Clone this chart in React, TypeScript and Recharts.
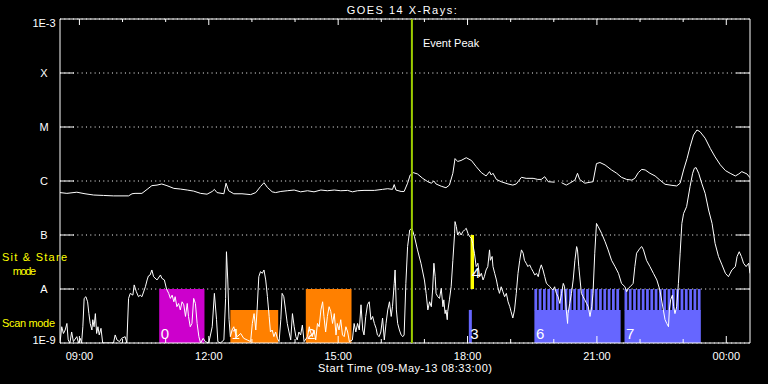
import { LineChart, Line, XAxis, YAxis, CartesianGrid, ReferenceArea, ReferenceLine } from 'recharts'

// time in decimal hours on 09-May-13 (24+ = next day), flux in W/m^2
const T_START = 8.55
const T_END = 24.55
const hourTicks = [9, 10, 11, 12, 13, 14, 15, 16, 17, 18, 19, 20, 21, 22, 23, 24]
const hourLabels: Record<number, string> = { 9: '09:00', 12: '12:00', 15: '15:00', 18: '18:00', 21: '21:00', 24: '00:00' }
const fluxTicks = [1e-9, 1e-8, 1e-7, 1e-6, 1e-5, 1e-4, 1e-3]
const fluxLabels = ['1E-9', 'A', 'B', 'C', 'M', 'X', '1E-3']
const eventPeak = 16.71

// 1-8 A channel
const longChannel: [number, number | null][] = [
  [8.55, 6.1e-7], [8.71, 5.9e-7], [8.94, 6.2e-7], [9.13, 5.8e-7], [9.33, 5.5e-7], [9.56, 5.4e-7], [9.79, 5.3e-7],
  [10.14, 5.3e-7], [10.22, 5.8e-7], [10.29, 5.9e-7], [10.45, 5.9e-7], [10.57, 7.0e-7], [10.68, 8.2e-7], [10.8, 8.4e-7],
  [10.91, 8.8e-7], [11.03, 8.2e-7], [11.19, 7.3e-7], [11.34, 7.1e-7], [11.5, 6.8e-7], [11.65, 6.5e-7], [11.81, 5.9e-7],
  [11.96, 5.7e-7], [12.08, 6.4e-7], [12.13, 7.0e-7], [12.19, 6.1e-7], [12.35, 5.8e-7], [12.4, 9.1e-7], [12.46, 6.6e-7],
  [12.58, 5.8e-7], [12.77, 5.8e-7], [12.97, 5.6e-7], [13.09, 6.1e-7], [13.2, 7.9e-7], [13.28, 9.3e-7], [13.36, 7.6e-7],
  [13.47, 6.3e-7], [13.55, 6.1e-7], [13.67, 6.4e-7], [13.82, 6.6e-7], [13.98, 6.8e-7], [14.13, 6.3e-7], [14.29, 6.6e-7],
  [14.44, 6.3e-7], [14.6, 6.8e-7], [14.75, 6.6e-7], [14.91, 6.8e-7], [15.06, 6.6e-7], [15.22, 6.7e-7], [15.33, 6.3e-7],
  [15.45, 6.6e-7], [15.6, 6.7e-7], [15.84, 6.7e-7], [16.03, 7.0e-7], [16.15, 7.2e-7], [16.26, 7.0e-7], [16.3, 8.6e-7],
  [16.34, 6.8e-7], [16.46, 6.4e-7], [16.53, 6.4e-7], [16.61, 9.1e-7], [16.67, 1.29e-6], [16.74, 1.43e-6], [16.84, 1.35e-6],
  [16.96, 1.12e-6], [17.08, 9.7e-7], [17.16, 9.1e-7], [17.22, 1.0e-6], [17.27, 8.8e-7], [17.39, 8.0e-7], [17.5, 7.5e-7],
  [17.58, 8.4e-7], [17.66, 1.39e-6], [17.71, 2.6e-6], [17.77, 2.3e-6], [17.85, 2.4e-6], [17.97, 2.7e-6], [18.09, 2.4e-6],
  [18.2, 1.85e-6], [18.32, 1.43e-6], [18.43, 1.24e-6], [18.51, 1.49e-6], [18.55, 1.29e-6], [18.59, 1.39e-6], [18.67, 1.07e-6],
  [18.78, 9.7e-7], [18.94, 8.8e-7], [19.05, 8.4e-7], [19.13, 8.8e-7], [19.25, 1.17e-6], [19.36, 1.12e-6], [19.52, 1.12e-6],
  [19.63, 1.07e-6], [19.71, 1.07e-6], [19.79, 1.2e-6], [19.87, 9.7e-7], [20.02, 9.5e-7], [20.1, null], [20.18, 9.3e-7],
  [20.29, 8.4e-7], [20.37, 9.1e-7], [20.49, 1.04e-6], [20.55, 1.39e-6], [20.6, 1.07e-6], [20.72, 9.1e-7], [20.91, 9.7e-7],
  [20.99, 2.1e-6], [21.07, 2.2e-6], [21.19, 1.98e-6], [21.34, 1.6e-6], [21.46, 1.39e-6], [21.57, 1.17e-6], [21.69, 1.07e-6],
  [21.81, 1.04e-6], [21.88, 1.12e-6], [21.96, 1.43e-6], [22.04, 1.64e-6], [22.12, 1.6e-6], [22.23, 1.39e-6], [22.35, 1.24e-6],
  [22.46, 1.04e-6], [22.58, 8.7e-7], [22.74, 8.3e-7], [22.85, 8.1e-7], [22.93, 9.1e-7], [23.01, 1.6e-6], [23.09, 2.6e-6],
  [23.16, 4.3e-6], [23.24, 7.1e-6], [23.32, 8.8e-6], [23.39, 8.2e-6], [23.51, 6.2e-6], [23.63, 4.0e-6], [23.74, 2.8e-6],
  [23.86, 2.0e-6], [23.98, 1.56e-6], [24.09, 1.39e-6], [24.21, 1.24e-6], [24.29, 1.35e-6], [24.36, 1.49e-6], [24.48, 1.35e-6],
  [24.55, 1.15e-6],
]

// 0.5-4 A channel
const shortChannel: [number, number][] = [
  [8.55, 1e-9], [8.59, 2.0e-9], [8.63, 1.5e-9], [8.67, 1.74e-9], [8.71, 2.3e-9], [8.74, 1.14e-9], [8.78, 1e-9], [8.82, 1.6e-9],
  [8.86, 1.06e-9], [8.94, 1.31e-9], [8.98, 1e-9], [9.02, 1.22e-9], [9.05, 1e-9], [9.08, 2.0e-9], [9.11, 6.7e-9], [9.15, 7.2e-9],
  [9.19, 5.8e-9], [9.22, 3.5e-9], [9.25, 2.3e-9], [9.29, 1.74e-9], [9.31, 2.7e-9], [9.34, 2.0e-9], [9.37, 3.5e-9], [9.4, 1.5e-9],
  [9.43, 2.0e-9], [9.46, 1.41e-9], [9.5, 1.87e-9], [9.54, 1e-9], [9.79, 1e-9], [9.83, 1.41e-9], [9.87, 1.14e-9], [9.93, 1.06e-9],
  [9.98, 1.22e-9], [10.06, 1.31e-9], [10.1, 1e-9], [10.14, 6.7e-9], [10.18, 8.3e-9], [10.24, 7.7e-9], [10.27, 1.19e-8],
  [10.32, 8.9e-9], [10.37, 7.2e-9], [10.41, 7.7e-9], [10.45, 7.2e-9], [10.53, 1.1e-8], [10.57, 1.47e-8], [10.6, 1.74e-8],
  [10.64, 1.82e-8], [10.68, 2.25e-8], [10.72, 1.69e-8], [10.8, 1.47e-8], [10.88, 1.82e-8], [10.91, 1.58e-8], [10.97, 1.47e-8],
  [11.02, 1.0e-8], [11.07, 8.3e-9], [11.11, 6.7e-9], [11.15, 7.7e-9], [11.19, 5.8e-9], [11.22, 7.2e-9], [11.26, 4.7e-9],
  [11.3, 5.4e-9], [11.34, 4.1e-9], [11.38, 5.8e-9], [11.42, 5.1e-9], [11.46, 3.1e-9], [11.5, 5.4e-9], [11.53, 3.1e-9],
  [11.57, 2.0e-9], [11.61, 2.3e-9], [11.65, 6.7e-9], [11.69, 5.4e-9], [11.73, 2.3e-9], [11.77, 1.31e-9], [11.81, 1e-9],
  [11.87, 1.22e-9], [11.92, 1.06e-9], [12.0, 1e-9], [12.08, 2.0e-9], [12.13, 8.3e-9], [12.18, 2.7e-9], [12.21, 1.06e-9],
  [12.27, 1e-9], [12.35, 1.14e-9], [12.39, 6.7e-9], [12.41, 4.9e-8], [12.44, 1.47e-8], [12.47, 2.7e-9], [12.5, 1.31e-9],
  [12.54, 1.74e-9], [12.58, 2.0e-9], [12.62, 1.5e-9], [12.66, 1.31e-9], [12.74, 1.5e-9], [12.81, 1.22e-9], [12.89, 1.14e-9],
  [12.97, 1.06e-9], [13.01, 2.3e-9], [13.05, 3.5e-9], [13.09, 1.74e-9], [13.12, 4.1e-9], [13.16, 1.69e-8], [13.2, 2.1e-8],
  [13.24, 1.95e-8], [13.28, 2.25e-8], [13.32, 1.47e-8], [13.36, 7.2e-9], [13.4, 3.1e-9], [13.43, 1.6e-9], [13.47, 1.74e-9],
  [13.51, 1.31e-9], [13.55, 1.6e-9], [13.59, 1.22e-9], [13.63, 1.06e-9], [13.67, 2.7e-9], [13.7, 8.3e-9], [13.74, 7.2e-9],
  [13.78, 4.1e-9], [13.82, 2.3e-9], [13.86, 1.6e-9], [13.9, 1.14e-9], [13.94, 3.5e-9], [13.98, 2.0e-9], [14.02, 1.31e-9],
  [14.05, 1.14e-9], [14.09, 1.6e-9], [14.13, 1.41e-9], [14.17, 2.15e-9], [14.21, 1.06e-9], [14.29, 1.31e-9], [14.33, 2.0e-9],
  [14.36, 1.6e-9], [14.4, 1.31e-9], [14.44, 1.74e-9], [14.48, 1.14e-9], [14.52, 2.3e-9], [14.56, 2.0e-9], [14.6, 4.1e-9],
  [14.64, 5.8e-9], [14.67, 3.1e-9], [14.71, 1.6e-9], [14.75, 3.1e-9], [14.79, 4.7e-9], [14.83, 3.8e-9], [14.87, 2.3e-9],
  [14.91, 3.5e-9], [14.95, 1.41e-9], [14.98, 2.3e-9], [15.02, 1.74e-9], [15.06, 2.7e-9], [15.1, 1.41e-9], [15.14, 1.31e-9],
  [15.18, 2.0e-9], [15.22, 1.6e-9], [15.26, 1.06e-9], [15.33, 1.14e-9], [15.37, 2.3e-9], [15.41, 1.6e-9], [15.45, 2.3e-9],
  [15.49, 1.74e-9], [15.53, 5.1e-9], [15.57, 1.74e-9], [15.6, 1.41e-9], [15.64, 3.1e-9], [15.68, 5.1e-9], [15.72, 5.8e-9],
  [15.76, 2.7e-9], [15.8, 3.1e-9], [15.84, 2.3e-9], [15.88, 1.87e-9], [15.91, 1.41e-9], [15.95, 1.31e-9], [15.99, 1.6e-9],
  [16.03, 2.9e-9], [16.07, 1.14e-9], [16.11, 2.3e-9], [16.15, 4.1e-9], [16.19, 5.8e-9], [16.23, 3.1e-9], [16.26, 4.7e-9],
  [16.3, 1.27e-8], [16.32, 2.25e-8], [16.35, 4.1e-9], [16.38, 2.3e-9], [16.42, 1.74e-9], [16.46, 1.41e-9], [16.5, 1.31e-9],
  [16.53, 1.41e-9], [16.57, 1.27e-8], [16.61, 6.1e-8], [16.66, 1.24e-7], [16.71, 1.33e-7], [16.77, 9.3e-8], [16.84, 5.3e-8],
  [16.92, 3.0e-8], [17.0, 1.47e-8], [17.04, 8.3e-9], [17.08, 4.1e-9], [17.12, 5.8e-9], [17.16, 4.7e-9], [17.19, 9.6e-9],
  [17.22, 3.0e-8], [17.25, 1.69e-8], [17.27, 8.3e-9], [17.31, 7.2e-9], [17.35, 6.7e-9], [17.39, 1.03e-8], [17.43, 4.7e-9],
  [17.45, 6.3e-9], [17.48, 3.5e-9], [17.5, 4.1e-9], [17.53, 2.7e-9], [17.54, 3.8e-9], [17.58, 6.3e-9], [17.62, 1.1e-8],
  [17.66, 3.4e-8], [17.7, 1.07e-7], [17.71, 1.77e-7], [17.74, 1.43e-7], [17.77, 1.0e-7], [17.81, 1.15e-7], [17.85, 1.0e-7],
  [17.89, 1.15e-7], [17.93, 1.24e-7], [17.97, 1.33e-7], [18.01, 1.07e-7], [18.05, 9.3e-8], [18.09, 8.7e-8], [18.12, 7.0e-8],
  [18.16, 4.6e-8], [18.2, 2.6e-8], [18.24, 3.0e-8], [18.28, 1.69e-8], [18.32, 1.95e-8], [18.36, 1.47e-8], [18.39, 1.69e-8],
  [18.43, 2.25e-8], [18.47, 2.6e-8], [18.51, 5.3e-8], [18.53, 3.4e-8], [18.57, 4.0e-8], [18.59, 2.6e-8], [18.63, 1.95e-8],
  [18.67, 1.47e-8], [18.7, 1.1e-8], [18.74, 8.3e-9], [18.78, 1.1e-8], [18.82, 8.9e-9], [18.86, 7.2e-9], [18.9, 8.3e-9],
  [18.94, 5.8e-9], [18.98, 4.7e-9], [19.01, 3.8e-9], [19.05, 2.9e-9], [19.09, 4.1e-9], [19.13, 8.3e-9], [19.17, 1.95e-8],
  [19.21, 3.4e-8], [19.25, 5.3e-8], [19.29, 4.6e-8], [19.32, 3.4e-8], [19.36, 3.0e-8], [19.4, 2.6e-8], [19.44, 2.8e-8],
  [19.48, 2.4e-8], [19.52, 2.1e-8], [19.56, 1.82e-8], [19.6, 1.95e-8], [19.64, 1.69e-8], [19.67, 2.25e-8], [19.71, 2.8e-8],
  [19.75, 2.25e-8], [19.79, 1.69e-8], [19.83, 1.27e-8], [19.87, 1.19e-8], [19.91, 1.1e-8], [19.94, 1.03e-8], [19.98, 9.6e-9],
  [20.02, 1.1e-8], [20.06, 8.3e-9], [20.1, 7.2e-9], [20.14, 5.4e-9], [20.18, 8.3e-9], [20.22, 1.27e-8], [20.25, 1.1e-8],
  [20.29, 4.1e-9], [20.32, 2.3e-9], [20.33, 3.5e-9], [20.37, 5.4e-9], [20.41, 8.3e-9], [20.45, 1.47e-8], [20.49, 3.4e-8],
  [20.53, 6.1e-8], [20.55, 5.3e-8], [20.58, 2.6e-8], [20.61, 1.47e-8], [20.64, 8.3e-9], [20.68, 7.2e-9], [20.72, 6.3e-9],
  [20.76, 5.4e-9], [20.8, 4.7e-9], [20.84, 3.1e-9], [20.88, 4.7e-9], [20.91, 8.3e-9], [20.95, 4.6e-8], [20.99, 1.64e-7],
  [21.03, 1.43e-7], [21.11, 1.07e-7], [21.19, 7.5e-8], [21.26, 5.3e-8], [21.34, 3.4e-8], [21.42, 2.6e-8], [21.5, 1.95e-8],
  [21.57, 1.27e-8], [21.65, 1.1e-8], [21.69, 8.9e-9], [21.73, 1.03e-8], [21.77, 1.1e-8], [21.81, 1.19e-8], [21.84, 1.27e-8],
  [21.88, 2.6e-8], [21.92, 4.6e-8], [22.0, 5.7e-8], [22.04, 6.1e-8], [22.08, 5.3e-8], [22.15, 3.4e-8], [22.23, 2.6e-8],
  [22.31, 1.95e-8], [22.39, 1.47e-8], [22.46, 9.6e-9], [22.54, 4.1e-9], [22.58, 2.7e-9], [22.62, 2.3e-9], [22.66, 2.0e-9],
  [22.68, 4.1e-9], [22.71, 6.3e-9], [22.75, 7.7e-9], [22.78, 4.7e-9], [22.81, 3.5e-9], [22.85, 4.7e-9], [22.89, 1.27e-8],
  [22.93, 4.6e-8], [22.97, 1.64e-7], [23.01, 2.5e-7], [23.08, 3.35e-7], [23.16, 7.9e-7], [23.22, 1.39e-6], [23.26, 1.72e-6],
  [23.3, 1.77e-6], [23.36, 1.39e-6], [23.43, 9.1e-7], [23.51, 5.9e-7], [23.59, 2.9e-7], [23.67, 1.64e-7], [23.74, 7.0e-8],
  [23.82, 4.0e-8], [23.9, 2.8e-8], [23.98, 1.95e-8], [24.05, 1.69e-8], [24.13, 2.25e-8], [24.21, 2.6e-8], [24.25, 4.0e-8],
  [24.3, 4.9e-8], [24.35, 4.0e-8], [24.4, 3.0e-8], [24.46, 2.6e-8], [24.52, 3.0e-8], [24.55, 1.95e-8],
]

// observing blocks: id, start, end, lower flux, upper flux, kind
const scanBlocks: [string, number, number, number, number, string][] = [
  ['0', 10.85, 11.9, 1e-9, 1e-8, 'magenta'],
  ['1', 12.5, 13.61, 1e-9, 4.1e-9, 'orange'],
  ['2', 14.25, 15.31, 1e-9, 1e-8, 'orange'],
  ['3', 18.03, 18.1, 1e-9, 4.1e-9, 'blue'],
  ['4', 18.07, 18.15, 1e-8, 1e-7, 'stare'],
]
// raster blocks with comb: id, start, end, number of rasters
const rasterBlocks: [string, number, number, number][] = [
  ['6', 19.55, 21.55, 20],
  ['7', 21.64, 23.41, 18],
]
const RASTER_STEP = 0.1
const RASTER_WIDTH = 0.064
const COMB_LOW = 4.1e-9
const COMB_HIGH = 1e-8

const kindColors: Record<string, string> = {
  magenta: '#cc00cc',
  orange: '#ff8000',
  blue: '#6666ff',
  stare: '#ffff00',
}

const toRows = (pts: [number, number | null][]) => pts.map(([t, f]) => ({ t, f }))
const longData = toRows(longChannel)
const shortData = toRows(shortChannel)

const PLOT_H = 324
const PLOT_W = 690
const FONT = '"Liberation Sans", Arial, sans-serif'

function TimeTick({ x, y, payload }: any) {
  const v = payload.value
  const major = hourLabels[v] !== undefined
  const len = major ? 7 : 4
  return (
    <g>
      <line x1={x} x2={x} y1={y} y2={y - len} stroke="#fff" />
      <line x1={x} x2={x} y1={y - PLOT_H} y2={y - PLOT_H + len - 1} stroke="#fff" />
      {major && (
        <text x={x} y={y + 17} textAnchor="middle" fill="#fff" fontSize={11} fontFamily={FONT}>
          {hourLabels[v]}
        </text>
      )}
    </g>
  )
}

function FluxTick({ x, y, payload }: any) {
  const i = fluxTicks.indexOf(payload.value)
  const dy = i === 0 ? 0.5 : i === fluxTicks.length - 1 ? 7.5 : 4
  const inner = i > 0 && i < fluxTicks.length - 1
  return (
    <g>
      {inner && <line x1={x} x2={x + 14} y1={y} y2={y} stroke="#fff" />}
      {inner && <line x1={x + PLOT_W - 14} x2={x + PLOT_W} y1={y} y2={y} stroke="#fff" />}
      <text x={x - 16} y={y + dy} textAnchor="middle" fill="#fff" fontSize={11} fontFamily={FONT}>
        {fluxLabels[i]}
      </text>
    </g>
  )
}

function blockLabel(text: string, up: number) {
  return (p: any) => {
    const vb = p.viewBox || {}
    return (
      <text x={vb.x + 1.5} y={vb.y + vb.height - up} fill="#fff" fontSize={15} fontFamily={FONT}>
        {text}
      </text>
    )
  }
}

function EventLabel(p: any) {
  const vb = p.viewBox || {}
  return (
    <text x={vb.x + 11} y={vb.y + 28} fill="#fff" fontSize={11} fontFamily={FONT}>
      Event Peak
    </text>
  )
}

export default function App() {
  return (
    <div style={{ position: 'relative', width: 768, height: 384, background: '#000' }}>
      <style>{'body{margin:0;background:#000}'}</style>
      <LineChart width={768} height={384} margin={{ top: 19, right: 18, bottom: 0, left: 0 }}>
        <XAxis
          type="number"
          dataKey="t"
          domain={[T_START, T_END]}
          ticks={hourTicks}
          interval={0}
          allowDataOverflow
          height={41}
          axisLine={false}
          tickLine={false}
          tickSize={0}
          tickMargin={0}
          tick={<TimeTick />}
        />
        <YAxis
          type="number"
          scale="log"
          domain={[1e-9, 1e-3]}
          ticks={fluxTicks}
          interval={0}
          allowDataOverflow
          width={60}
          axisLine={false}
          tickLine={false}
          tickSize={0}
          tickMargin={0}
          tick={<FluxTick />}
        />
        <CartesianGrid vertical={false} stroke="#fff" strokeDasharray="1 3.33" />
        {scanBlocks.map(([id, t0, t1, lo, hi, kind]) => (
          <ReferenceArea
            key={'b' + id}
            x1={t0}
            x2={t1}
            y1={lo}
            y2={hi}
            fill={kindColors[kind]}
            fillOpacity={1}
            stroke="none"
            label={blockLabel(id, kind === 'stare' ? 11 : 4)}
          />
        ))}
        {rasterBlocks.map(([id, t0, t1]) => (
          <ReferenceArea
            key={'r' + id}
            x1={t0}
            x2={t1}
            y1={1e-9}
            y2={COMB_LOW}
            fill={kindColors.blue}
            fillOpacity={1}
            stroke="none"
            label={blockLabel(id, 4)}
          />
        ))}
        {rasterBlocks.flatMap(([id, t0, t1, n]) =>
          Array.from({ length: n }, (_, k) => (
            <ReferenceArea
              key={'r' + id + '-' + k}
              x1={t0 + k * RASTER_STEP}
              x2={Math.min(t0 + k * RASTER_STEP + RASTER_WIDTH, t1)}
              y1={COMB_LOW * 0.98}
              y2={COMB_HIGH}
              fill={kindColors.blue}
              fillOpacity={1}
              stroke="none"
            />
          ))
        )}
        <ReferenceArea x1={T_START} x2={T_END} y1={1e-9} y2={1e-3} fill="none" stroke="#fff" strokeWidth={1} />
        <Line data={longData} dataKey="f" type="linear" stroke="#fff" strokeWidth={1} dot={false} isAnimationActive={false} />
        <Line data={shortData} dataKey="f" type="linear" stroke="#fff" strokeWidth={1} dot={false} isAnimationActive={false} />
        <ReferenceLine x={eventPeak} stroke="#9ccc00" strokeWidth={2} label={EventLabel} />
      </LineChart>
      <svg width={768} height={384} style={{ position: 'absolute', left: 0, top: 0, pointerEvents: 'none' }}>
        <text x={346.7} y={13.5} fill="#fff" fontSize={11} fontFamily={FONT} textLength={110} lengthAdjust="spacing">
          GOES 14 X-Rays:
        </text>
        <text x={318} y={372} fill="#fff" fontSize={11} fontFamily={FONT} textLength={174} lengthAdjust="spacing">
          Start Time (09-May-13 08:33:00)
        </text>
        <text x={2} y={261} fill="#ffff00" fontSize={11} fontFamily={FONT} textLength={65} lengthAdjust="spacing">
          Sit &amp; Stare
        </text>
        <text x={12.7} y={275} fill="#ffff00" fontSize={11} fontFamily={FONT} textLength={23.3} lengthAdjust="spacing">
          mode
        </text>
        <text x={2} y={327} fill="#ffff00" fontSize={11} fontFamily={FONT} textLength={53} lengthAdjust="spacing">
          Scan mode
        </text>
      </svg>
    </div>
  )
}
